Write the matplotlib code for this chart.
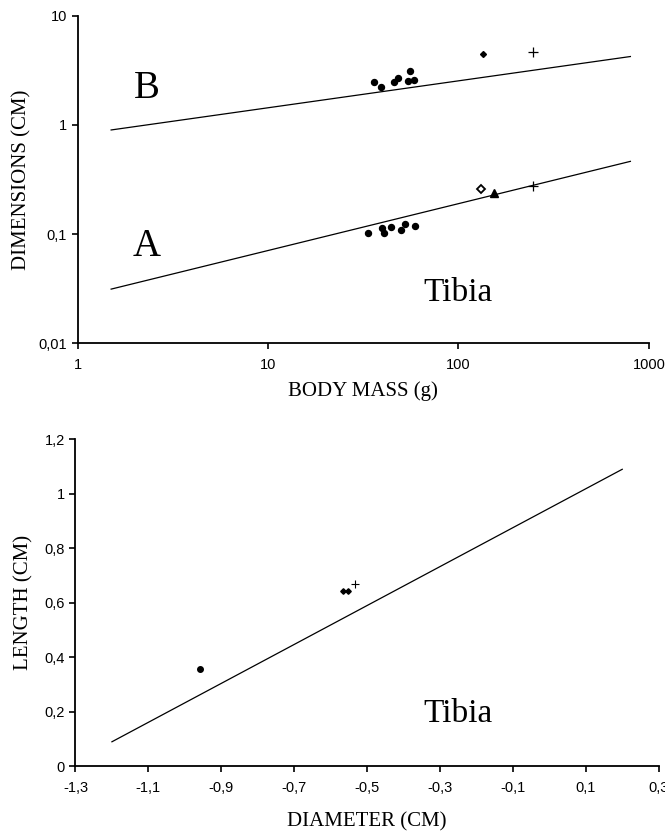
import numpy as np
import matplotlib.pyplot as plt

# top panel: body mass vs dimensions (log-log)
massB = [36.0, 39.1, 45.8, 48.0, 54.2, 55.6, 58.3]
dimB = [2.50, 2.25, 2.46, 2.72, 2.55, 3.15, 2.59]
massB_dia, dimB_dia = [135], [4.46]
massB_plus, dimB_plus = [246], [4.71]

massA = [33.5, 39.5, 40.7, 44.4, 49.7, 52.3, 58.9]
dimA = [0.103, 0.113, 0.102, 0.117, 0.108, 0.123, 0.118]
massA_dia, dimA_dia = [131.6], [0.258]
massA_tri, dimA_tri = [153.5], [0.240]
massA_plus, dimA_plus = [245], [0.277]

fit_mass = [1.5, 800]
fitB = [0.90, 4.24]
fitA = [0.0313, 0.464]

# bottom panel: diameter vs length
diam_circ, len_circ = [-0.958], [0.356]
diam_dia, len_dia = [-0.565, -0.551], [0.641, 0.641]
diam_plus, len_plus = [-0.532], [0.667]
fit_diam = [-1.2, 0.2]
fit_len = [0.089, 1.089]

top_xticks = [1, 10, 100, 1000]
top_xlabels = ['1', '10', '100', '1000']
top_yticks = [0.01, 0.1, 1, 10]
top_ylabels = ['0,01', '0,1', '1', '10']
bot_xticks = [-1.3, -1.1, -0.9, -0.7, -0.5, -0.3, -0.1, 0.1, 0.3]
bot_xlabels = ['-1,3', '-1,1', '-0,9', '-0,7', '-0,5', '-0,3', '-0,1', '0,1', '0,3']
bot_yticks = [0, 0.2, 0.4, 0.6, 0.8, 1.0, 1.2]
bot_ylabels = ['0', '0,2', '0,4', '0,6', '0,8', '1', '1,2']

serif = ['Liberation Serif', 'DejaVu Serif']
sans = ['Liberation Sans', 'DejaVu Sans']

fig = plt.figure(figsize=(6.65, 8.35), dpi=100)

def style(ax):
    for s in ['top', 'right']:
        ax.spines[s].set_visible(False)
    for s in ['left', 'bottom']:
        ax.spines[s].set_linewidth(1.3)
    ax.tick_params(which='major', direction='out', length=4, width=1.2, labelsize=10.5)
    ax.tick_params(axis='x', pad=7)
    ax.tick_params(which='minor', length=0)
    for lab in ax.get_xticklabels() + ax.get_yticklabels():
        lab.set_family(sans)

ax1 = fig.add_axes([0.1167, 0.589, 0.859, 0.392])
ax1.set_xscale('log')
ax1.set_yscale('log')
ax1.plot(fit_mass, fitB, color='black', lw=0.9)
ax1.plot(fit_mass, fitA, color='black', lw=0.9)
ax1.plot(massB, dimB, 'o', color='black', ms=4.3)
ax1.plot(massB_dia, dimB_dia, 'D', color='black', ms=3)
ax1.plot(massB_plus, dimB_plus, '+', color='black', ms=7, mew=0.9)
ax1.plot(massA, dimA, 'o', color='black', ms=4.3)
ax1.plot(massA_dia, dimA_dia, 'D', mfc='white', mec='black', mew=1.3, ms=4)
ax1.plot(massA_tri, dimA_tri, '^', color='black', ms=5.5)
ax1.plot(massA_plus, dimA_plus, '+', color='black', ms=7, mew=0.9)
ax1.set_xlim(1, 1000)
ax1.set_ylim(0.01, 10)
ax1.set_xticks(top_xticks)
ax1.set_xticklabels(top_xlabels)
ax1.set_yticks(top_yticks)
ax1.set_yticklabels(top_ylabels)
style(ax1)
ax1.set_xlabel('BODY MASS (g)', family=serif, fontsize=15, labelpad=6)
ax1.set_ylabel('DIMENSIONS (CM)', family=serif, fontsize=15, labelpad=5)
ax1.text(2.3, 1.78, 'B', family=serif, fontsize=28, ha='center', va='baseline')
ax1.text(2.3, 0.063, 'A', family=serif, fontsize=28, ha='center', va='baseline')
ax1.text(100, 0.0244, 'Tibia', family=serif, fontsize=24, ha='center', va='baseline')

ax2 = fig.add_axes([0.1135, 0.0826, 0.877, 0.3916])
ax2.plot(fit_diam, fit_len, color='black', lw=0.9)
ax2.plot(diam_circ, len_circ, 'o', color='black', ms=4)
ax2.plot(diam_dia, len_dia, 'D', color='black', ms=2.8)
ax2.plot(diam_plus, len_plus, '+', color='black', ms=6, mew=0.8)
ax2.set_xlim(-1.3, 0.3)
ax2.set_ylim(0, 1.2)
ax2.set_xticks(bot_xticks)
ax2.set_xticklabels(bot_xlabels)
ax2.set_yticks(bot_yticks)
ax2.set_yticklabels(bot_ylabels)
style(ax2)
ax2.set_xlabel('DIAMETER (CM)', family=serif, fontsize=15, labelpad=12)
ax2.set_ylabel('LENGTH (CM)', family=serif, fontsize=15, labelpad=8)
ax2.text(-0.25, 0.163, 'Tibia', family=serif, fontsize=24, ha='center', va='baseline')

fig.savefig('out.png', dpi=100)
